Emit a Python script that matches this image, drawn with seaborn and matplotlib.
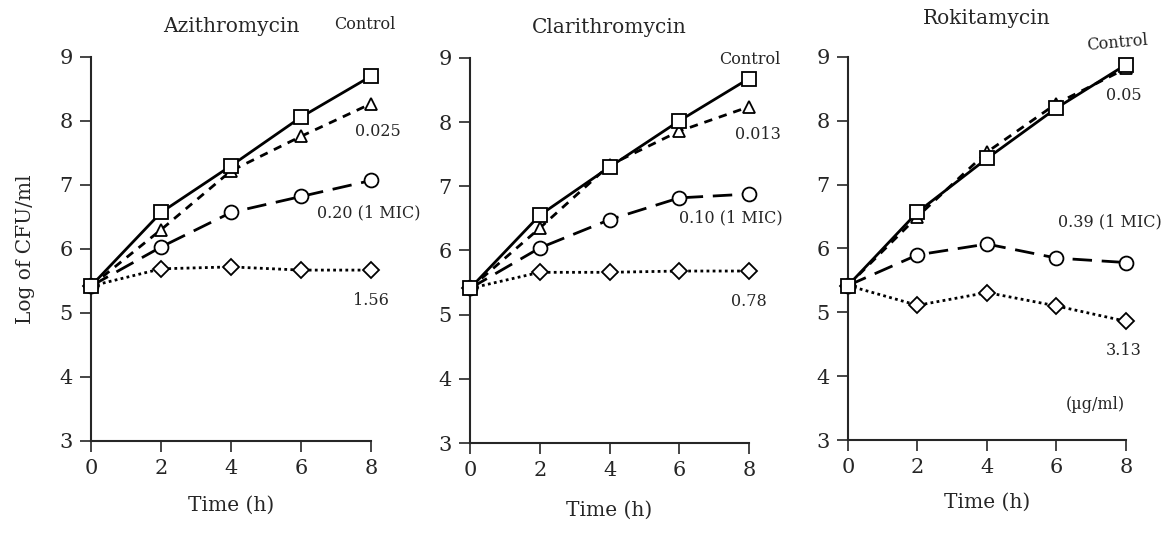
import matplotlib
matplotlib.use("Agg")
import matplotlib.pyplot as plt
import seaborn as sns

# === DATA ===
TIMES = [0, 2, 4, 6, 8]
DRUGS = ["Azithromycin", "Clarithromycin", "Rokitamycin"]

azi_control = [5.42, 6.57, 7.30, 8.06, 8.70]
azi_low = [5.42, 6.30, 7.22, 7.76, 8.27]
azi_mic = [5.42, 6.03, 6.57, 6.82, 7.07]
azi_high = [5.42, 5.69, 5.72, 5.67, 5.67]

cla_control = [5.41, 6.55, 7.30, 8.02, 8.68]
cla_low = [5.41, 6.35, 7.33, 7.86, 8.24]
cla_mic = [5.41, 6.04, 6.48, 6.82, 6.88]
cla_high = [5.41, 5.66, 5.66, 5.68, 5.68]

rok_control = [5.42, 6.57, 7.41, 8.20, 8.88]
rok_low = [5.42, 6.50, 7.51, 8.27, 8.82]
rok_mic = [5.42, 5.90, 6.07, 5.85, 5.78]
rok_high = [5.42, 5.11, 5.31, 5.10, 4.86]

azi_labels = ["Control", "0.025", "0.20 (1 MIC)", "1.56"]
cla_labels = ["Control", "0.013", "0.10 (1 MIC)", "0.78"]
rok_labels = ["Control", "0.05", "0.39 (1 MIC)", "3.13"]

# === STYLE ===
sns.set_style("ticks")
plt.rcParams["font.family"] = ["DejaVu Serif"]

SERIES_STYLE = [
    # marker, linestyle, markersize, zorder
    ("s", "-", 10, 5),
    ("^", (0, (3, 2.5)), 9, 4),
    ("o", (0, (7, 3.5)), 10, 3),
    ("D", (0, (1, 1.2)), 8, 2),
]

# label positions in data coords per panel: control, low, mic, high
LABEL_POS = [
    [(7.83, 9.50), (8.20, 7.83), (7.94, 6.56), (8.00, 5.20)],
    [(8.02, 8.98), (8.25, 7.80), (7.48, 6.51), (7.99, 5.20)],
    [(7.74, 9.22), (7.94, 8.40), (7.55, 6.41), (7.94, 4.41)],
]
LABEL_ROT = [0, 0, 5]

AX_RECTS = [
    (0.0778, 0.1742, 0.2396, 0.7191),
    (0.4021, 0.1704, 0.2386, 0.7210),
    (0.7254, 0.1760, 0.2378, 0.7173),
]
TITLE_PAD = [18, 18, 24]
XLABEL_PAD = [13, 15, 11]

panels = [
    (azi_control, azi_low, azi_mic, azi_high, azi_labels),
    (cla_control, cla_low, cla_mic, cla_high, cla_labels),
    (rok_control, rok_low, rok_mic, rok_high, rok_labels),
]

fig = plt.figure(figsize=(11.69, 5.34), dpi=100)

for k, (drug, panel) in enumerate(zip(DRUGS, panels)):
    ax = fig.add_axes(AX_RECTS[k])
    series = panel[:4]
    labels = panel[4]
    for vals, (mk, ls, ms, z) in zip(series, SERIES_STYLE):
        sns.lineplot(x=TIMES, y=vals, ax=ax, color="black", linestyle=ls,
                     linewidth=2.0, marker=mk, markersize=ms,
                     markerfacecolor="white", markeredgecolor="black",
                     markeredgewidth=1.3, clip_on=False, zorder=z)
    for j, (lab, (tx, ty)) in enumerate(zip(labels, LABEL_POS[k])):
        rot = LABEL_ROT[k] if j == 0 else 0
        ax.text(tx, ty, lab, ha="center", va="center", fontsize=11.5,
                rotation=rot, clip_on=False)
    if k == 2:
        ax.text(7.11, 3.55, "(\u00b5g/ml)", ha="center", va="center",
                fontsize=11.5)

    ax.set_xlim(0, 8)
    ax.set_ylim(3, 9)
    ax.set_xticks(TIMES)
    ax.set_yticks(range(3, 10))
    ax.tick_params(labelsize=15, length=8, width=1.2, pad=5, direction="out")
    for side in ["left", "bottom"]:
        ax.spines[side].set_linewidth(1.5)
    sns.despine(ax=ax)
    ax.set_title(drug, fontsize=14.5, pad=TITLE_PAD[k])
    ax.set_xlabel("Time (h)", fontsize=14.5, labelpad=XLABEL_PAD[k])
    if k == 0:
        ax.set_ylabel("Log of CFU/ml", fontsize=14.5, labelpad=18)

plt.savefig("out.png", dpi=100)
